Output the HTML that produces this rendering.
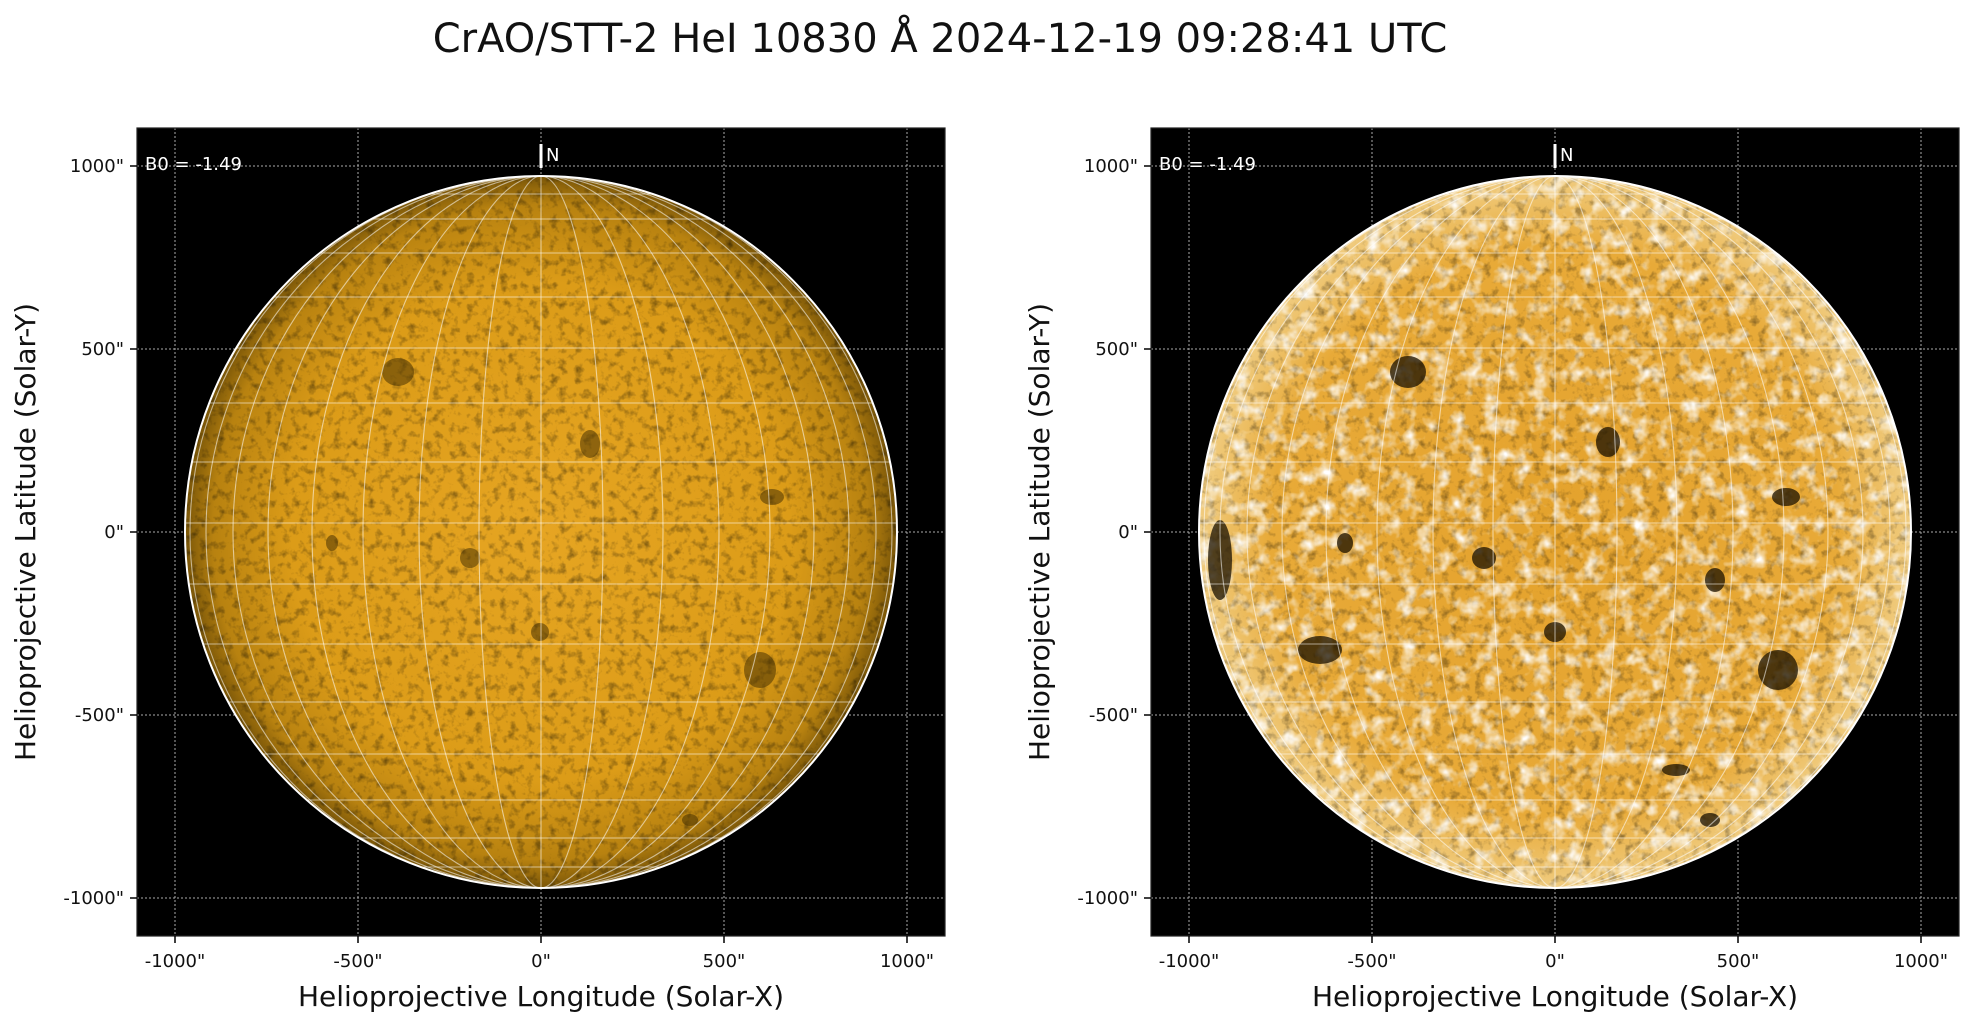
<!DOCTYPE html>
<html><head><meta charset="utf-8"><style>
html,body{margin:0;padding:0;background:#fff;}
svg{display:block;font-family:"DejaVu Sans","Liberation Sans",sans-serif;}
</style></head><body>
<svg width="1971" height="1026" viewBox="0 0 1971 1026" xmlns="http://www.w3.org/2000/svg">
<defs>
<radialGradient id="g1" cx="0.5" cy="0.5" r="0.5">
<stop offset="0" stop-color="#e6a522"/><stop offset="0.7" stop-color="#dc9c18"/><stop offset="0.92" stop-color="#b88210"/><stop offset="1" stop-color="#7a5608"/>
</radialGradient>
<radialGradient id="g2" cx="0.5" cy="0.5" r="0.5">
<stop offset="0" stop-color="#e4a22c"/><stop offset="0.8" stop-color="#e8aa38"/><stop offset="1" stop-color="#f0cc80"/>
</radialGradient>
<filter id="n1" x="0" y="0" width="1" height="1"><feTurbulence type="fractalNoise" baseFrequency="0.12" numOctaves="3" seed="3"/><feColorMatrix values="0 0 0 0 0  0 0 0 0 0  0 0 0 0 0  0 0 0 -1.0 0.5"/></filter>
<filter id="n2" x="0" y="0" width="1" height="1"><feTurbulence type="fractalNoise" baseFrequency="0.06" numOctaves="3" seed="7"/><feColorMatrix values="0 0 0 0 1  0 0 0 0 1  0 0 0 0 1  0 0 0 2.4 -1.15"/></filter>
<clipPath id="c1"><circle cx="541" cy="532" r="356"/></clipPath>
<clipPath id="c2"><circle cx="1555" cy="532" r="356"/></clipPath>
<g id="grid" fill="none" stroke="#fff" stroke-opacity="0.55" stroke-width="1.1">
<line x1="0" y1="-356" x2="0" y2="356"/>
<ellipse rx="62" ry="356"/><ellipse rx="122" ry="356"/><ellipse rx="178" ry="356"/><ellipse rx="229" ry="356"/><ellipse rx="273" ry="356"/><ellipse rx="308" ry="356"/><ellipse rx="335" ry="356"/><ellipse rx="351" ry="356"/>
<line x1="-356" y1="-9" x2="356" y2="-9"/>
<line x1="-356" y1="52" x2="356" y2="52"/><line x1="-356" y1="-70" x2="356" y2="-70"/>
<line x1="-356" y1="112" x2="356" y2="112"/><line x1="-356" y1="-129" x2="356" y2="-129"/>
<line x1="-356" y1="170" x2="356" y2="170"/><line x1="-356" y1="-184" x2="356" y2="-184"/>
<line x1="-356" y1="222" x2="356" y2="222"/><line x1="-356" y1="-235" x2="356" y2="-235"/>
<line x1="-356" y1="268" x2="356" y2="268"/><line x1="-356" y1="-279" x2="356" y2="-279"/>
<line x1="-356" y1="306" x2="356" y2="306"/><line x1="-356" y1="-313" x2="356" y2="-313"/>
<line x1="-356" y1="335" x2="356" y2="335"/><line x1="-356" y1="-338" x2="356" y2="-338"/>
</g>
</defs>
<text x="940" y="52" font-size="40" text-anchor="middle" fill="#111">CrAO/STT-2 HeI 10830 Å 2024-12-19 09:28:41 UTC</text>

<!-- LEFT PANEL -->
<rect x="137" y="128" width="808" height="808" fill="#000"/>
<g stroke="#aaa" stroke-width="1" stroke-dasharray="2,2">
<line x1="175" y1="128" x2="175" y2="936"/><line x1="358" y1="128" x2="358" y2="936"/><line x1="541" y1="128" x2="541" y2="936"/><line x1="724" y1="128" x2="724" y2="936"/><line x1="907" y1="128" x2="907" y2="936"/>
<line x1="137" y1="166" x2="945" y2="166"/><line x1="137" y1="349" x2="945" y2="349"/><line x1="137" y1="532" x2="945" y2="532"/><line x1="137" y1="715" x2="945" y2="715"/><line x1="137" y1="898" x2="945" y2="898"/>
</g>
<circle cx="541" cy="532" r="356" fill="url(#g1)"/>
<g clip-path="url(#c1)">
<rect x="185" y="176" width="712" height="712" filter="url(#n1)"/>
<g fill="#3a2800" opacity="0.5">
<ellipse cx="398" cy="372" rx="16" ry="14"/><ellipse cx="590" cy="444" rx="10" ry="14"/><ellipse cx="772" cy="497" rx="12" ry="8"/><ellipse cx="760" cy="670" rx="16" ry="18"/><ellipse cx="470" cy="558" rx="10" ry="10"/><ellipse cx="332" cy="543" rx="6" ry="8"/><ellipse cx="540" cy="632" rx="9" ry="9"/><ellipse cx="690" cy="820" rx="8" ry="6"/>
</g>
<use href="#grid" x="541" y="532"/>
</g>
<circle cx="541" cy="532" r="356" fill="none" stroke="#fff" stroke-width="2"/>
<line x1="541" y1="144" x2="541" y2="168" stroke="#fff" stroke-width="3"/>
<text x="546" y="161" font-size="18" fill="#fff">N</text>
<text x="145" y="170" font-size="18" fill="#fff">B0 = -1.49</text>
<rect x="137" y="128" width="808" height="808" fill="none" stroke="#222" stroke-width="1.2"/>
<g stroke="#000" stroke-width="1.5">
<line x1="175" y1="936" x2="175" y2="943"/><line x1="358" y1="936" x2="358" y2="943"/><line x1="541" y1="936" x2="541" y2="943"/><line x1="724" y1="936" x2="724" y2="943"/><line x1="907" y1="936" x2="907" y2="943"/>
<line x1="130" y1="166" x2="137" y2="166"/><line x1="130" y1="349" x2="137" y2="349"/><line x1="130" y1="532" x2="137" y2="532"/><line x1="130" y1="715" x2="137" y2="715"/><line x1="130" y1="898" x2="137" y2="898"/>
</g>
<g font-size="18" fill="#111" text-anchor="middle">
<text x="175" y="967">-1000"</text><text x="358" y="967">-500"</text><text x="541" y="967">0"</text><text x="724" y="967">500"</text><text x="907" y="967">1000"</text>
</g>
<g font-size="18" fill="#111" text-anchor="end">
<text x="124" y="172">1000"</text><text x="124" y="355">500"</text><text x="124" y="538">0"</text><text x="124" y="721">-500"</text><text x="124" y="904">-1000"</text>
</g>
<text x="541" y="1006" font-size="28" fill="#111" text-anchor="middle">Helioprojective Longitude (Solar-X)</text>
<text transform="translate(35,532) rotate(-90)" font-size="28" fill="#111" text-anchor="middle">Helioprojective Latitude (Solar-Y)</text>

<!-- RIGHT PANEL -->
<rect x="1151" y="128" width="808" height="808" fill="#000"/>
<g stroke="#aaa" stroke-width="1" stroke-dasharray="2,2">
<line x1="1189" y1="128" x2="1189" y2="936"/><line x1="1372" y1="128" x2="1372" y2="936"/><line x1="1555" y1="128" x2="1555" y2="936"/><line x1="1738" y1="128" x2="1738" y2="936"/><line x1="1921" y1="128" x2="1921" y2="936"/>
<line x1="1151" y1="166" x2="1959" y2="166"/><line x1="1151" y1="349" x2="1959" y2="349"/><line x1="1151" y1="532" x2="1959" y2="532"/><line x1="1151" y1="715" x2="1959" y2="715"/><line x1="1151" y1="898" x2="1959" y2="898"/>
</g>
<circle cx="1555" cy="532" r="356" fill="url(#g2)"/>
<g clip-path="url(#c2)">
<rect x="1199" y="176" width="712" height="712" filter="url(#n1)" opacity="0.9"/>
<rect x="1199" y="176" width="712" height="712" filter="url(#n2)"/>
<g fill="#1a1000" opacity="0.75">
<ellipse cx="1408" cy="372" rx="18" ry="16"/><ellipse cx="1608" cy="442" rx="12" ry="15"/><ellipse cx="1786" cy="497" rx="14" ry="9"/><ellipse cx="1778" cy="670" rx="20" ry="20"/><ellipse cx="1484" cy="558" rx="12" ry="11"/><ellipse cx="1345" cy="543" rx="8" ry="10"/><ellipse cx="1555" cy="632" rx="11" ry="10"/><ellipse cx="1220" cy="560" rx="12" ry="40"/><ellipse cx="1320" cy="650" rx="22" ry="14"/><ellipse cx="1710" cy="820" rx="10" ry="7"/><ellipse cx="1676" cy="770" rx="14" ry="6"/><ellipse cx="1715" cy="580" rx="10" ry="12"/>
</g>
<use href="#grid" x="1555" y="532"/>
</g>
<circle cx="1555" cy="532" r="356" fill="none" stroke="#fff" stroke-width="2"/>
<line x1="1555" y1="144" x2="1555" y2="168" stroke="#fff" stroke-width="3"/>
<text x="1560" y="161" font-size="18" fill="#fff">N</text>
<text x="1159" y="170" font-size="18" fill="#fff">B0 = -1.49</text>
<rect x="1151" y="128" width="808" height="808" fill="none" stroke="#222" stroke-width="1.2"/>
<g stroke="#000" stroke-width="1.5">
<line x1="1189" y1="936" x2="1189" y2="943"/><line x1="1372" y1="936" x2="1372" y2="943"/><line x1="1555" y1="936" x2="1555" y2="943"/><line x1="1738" y1="936" x2="1738" y2="943"/><line x1="1921" y1="936" x2="1921" y2="943"/>
<line x1="1144" y1="166" x2="1151" y2="166"/><line x1="1144" y1="349" x2="1151" y2="349"/><line x1="1144" y1="532" x2="1151" y2="532"/><line x1="1144" y1="715" x2="1151" y2="715"/><line x1="1144" y1="898" x2="1151" y2="898"/>
</g>
<g font-size="18" fill="#111" text-anchor="middle">
<text x="1189" y="967">-1000"</text><text x="1372" y="967">-500"</text><text x="1555" y="967">0"</text><text x="1738" y="967">500"</text><text x="1921" y="967">1000"</text>
</g>
<g font-size="18" fill="#111" text-anchor="end">
<text x="1138" y="172">1000"</text><text x="1138" y="355">500"</text><text x="1138" y="538">0"</text><text x="1138" y="721">-500"</text><text x="1138" y="904">-1000"</text>
</g>
<text x="1555" y="1006" font-size="28" fill="#111" text-anchor="middle">Helioprojective Longitude (Solar-X)</text>
<text transform="translate(1049,532) rotate(-90)" font-size="28" fill="#111" text-anchor="middle">Helioprojective Latitude (Solar-Y)</text>
</svg>
</body></html>
